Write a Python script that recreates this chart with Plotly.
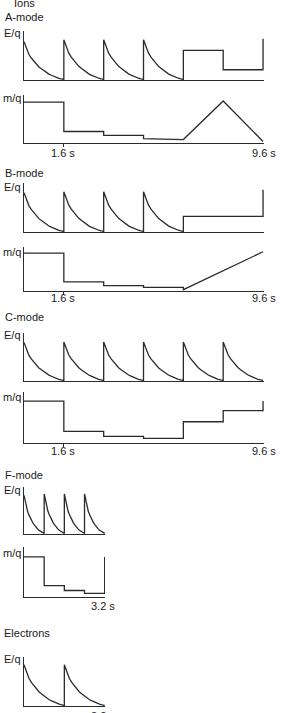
import plotly.graph_objects as go

# ---------------- data ----------------
# shape of one energy sweep (fraction of peak) at evenly spaced phases of the sweep
sweep_phase = [0.0, 0.0625, 0.125, 0.1875, 0.25, 0.3125, 0.375, 0.4375, 0.5,
               0.5625, 0.625, 0.6875, 0.75, 0.8125, 0.875, 0.9375, 1.0]
sweep_profile = [1.0, 0.82, 0.66, 0.56, 0.48, 0.40, 0.33, 0.28, 0.23,
                 0.18, 0.14, 0.11, 0.08, 0.055, 0.03, 0.012, 0.0]

# A-mode (ions)
A_eq_sweep_start = [0.0, 1.6, 3.2, 4.8]
A_eq_sweep_peak = [0.78, 0.82, 0.82, 0.82]
A_eq_sweep_len = 1.6
A_eq_tail_t = [6.4, 6.4, 8.0, 8.0, 9.6, 9.6]
A_eq_tail_v = [0.0, 0.60, 0.60, 0.20, 0.20, 0.84]
A_mq_t = [0.0, 1.6, 1.6, 3.2, 3.2, 4.8, 4.8, 6.4, 8.0, 9.6]
A_mq_v = [0.85, 0.85, 0.23, 0.23, 0.15, 0.15, 0.08, 0.06, 0.875, 0.02]

# B-mode (ions)
B_eq_sweep_start = [0.0, 1.6, 3.2, 4.8]
B_eq_sweep_peak = [0.80, 0.82, 0.82, 0.82]
B_eq_sweep_len = 1.6
B_eq_tail_t = [6.4, 6.4, 9.6, 9.6]
B_eq_tail_v = [0.0, 0.31, 0.31, 0.86]
B_mq_t = [0.0, 1.6, 1.6, 3.2, 3.2, 4.8, 4.8, 6.4, 6.4, 9.6]
B_mq_v = [0.86, 0.86, 0.20, 0.20, 0.11, 0.11, 0.07, 0.07, 0.02, 0.89]

# C-mode (ions)
C_eq_sweep_start = [0.0, 1.6, 3.2, 4.8, 6.4, 8.0]
C_eq_sweep_peak = [0.80, 0.81, 0.81, 0.81, 0.81, 0.81]
C_eq_sweep_len = 1.6
C_mq_t = [0.0, 1.6, 1.6, 3.2, 3.2, 4.8, 4.8, 6.4, 6.4, 8.0, 8.0, 9.6, 9.6]
C_mq_v = [0.82, 0.82, 0.22, 0.22, 0.12, 0.12, 0.08, 0.08, 0.41, 0.41, 0.63, 0.63, 0.82]

# F-mode (ions)
F_eq_sweep_start = [0.0, 0.8, 1.6, 2.4]
F_eq_sweep_peak = [0.82, 0.85, 0.85, 0.85]
F_eq_sweep_len = 0.8
F_mq_t = [0.0, 0.8, 0.8, 1.6, 1.6, 2.4, 2.4, 3.2, 3.2]
F_mq_v = [0.80, 0.80, 0.22, 0.22, 0.12, 0.12, 0.06, 0.06, 0.80]

# Electrons
E_eq_sweep_start = [0.0, 1.6]
E_eq_sweep_peak = [0.84, 0.84]
E_eq_sweep_len = 1.6

tick_labels_long = ["1.6 s", "9.6 s"]
tick_label_short = "3.2 s"


def sweeps(starts, peaks, length):
    t, v = [], []
    for s, p in zip(starts, peaks):
        for ph, pr in zip(sweep_phase, sweep_profile):
            t.append(s + ph * length)
            v.append(p * pr)
    return t, v


# ---------------- layout helpers ----------------
W, H = 281, 713
INK = "#2b2b2b"
FONT = dict(family="Liberation Sans, Arial, sans-serif", size=11, color="#1a1a1a")


def xd(a, b):
    return [a / W, b / W]


def yd(top, base):
    return [1 - base / H, 1 - top / H]


# (x domain px, y top px, y base px, x range max, tick at 1.6)
panels = [
    ((24, 264), 31, 80, 9.6, False),    # A E/q
    ((24, 264), 95, 143, 9.6, True),    # A m/q
    ((24, 264), 183, 232, 9.6, False),  # B E/q
    ((24, 264), 247, 291, 9.6, True),   # B m/q
    ((24, 264), 333, 381, 9.6, False),  # C E/q
    ((24, 264), 392, 443, 9.6, True),   # C m/q
    ((24, 105), 487, 534, 3.2, False),  # F E/q
    ((24, 105), 547, 597, 3.2, False),  # F m/q
    ((24, 105), 657, 706, 3.2, False),  # Electrons E/q
]

series = []
t, v = sweeps(A_eq_sweep_start, A_eq_sweep_peak, A_eq_sweep_len)
series.append((t + A_eq_tail_t, v + A_eq_tail_v))
series.append((A_mq_t, A_mq_v))
t, v = sweeps(B_eq_sweep_start, B_eq_sweep_peak, B_eq_sweep_len)
series.append((t + B_eq_tail_t, v + B_eq_tail_v))
series.append((B_mq_t, B_mq_v))
series.append(sweeps(C_eq_sweep_start, C_eq_sweep_peak, C_eq_sweep_len))
series.append((C_mq_t, C_mq_v))
series.append(sweeps(F_eq_sweep_start, F_eq_sweep_peak, F_eq_sweep_len))
series.append((F_mq_t, F_mq_v))
series.append(sweeps(E_eq_sweep_start, E_eq_sweep_peak, E_eq_sweep_len))

fig = go.Figure()
layout = {}
for i, ((pdx, ptop, pbase, xmax, tick), (tt, vv)) in enumerate(zip(panels, series), start=1):
    sfx = "" if i == 1 else str(i)
    fig.add_trace(go.Scatter(x=tt, y=vv, mode="lines",
                             line=dict(color=INK, width=1.3),
                             xaxis="x" + sfx, yaxis="y" + sfx,
                             showlegend=False, hoverinfo="skip"))
    layout["xaxis" + sfx] = dict(
        domain=xd(*pdx), range=[0, xmax * 1.004], anchor="y" + sfx,
        showline=True, linecolor=INK, linewidth=1.2,
        showgrid=False, zeroline=False, showticklabels=False,
        ticks="outside" if tick else "", tickvals=[1.6] if tick else [],
        ticklen=3, tickwidth=1, tickcolor=INK)
    layout["yaxis" + sfx] = dict(
        domain=yd(ptop, pbase), range=[-0.012, 1], anchor="x" + sfx,
        showline=True, linecolor=INK, linewidth=1.2,
        showgrid=False, zeroline=False, showticklabels=False, ticks="")

fig.update_layout(**layout)

ann = []


def text(s, xp, yp):
    ann.append(dict(text=s, x=xp / W, y=1 - yp / H, xref="paper", yref="paper",
                    xanchor="left", yanchor="middle", showarrow=False, font=FONT))


def ctext(s, xp, yp):
    ann.append(dict(text=s, x=xp / W, y=1 - yp / H, xref="paper", yref="paper",
                    xanchor="center", yanchor="middle", showarrow=False, font=FONT))


text("Ions", 12, 3)
text("A-mode", 3, 17)
text("E/q", 2, 33)
text("m/q", 1, 98)
ctext(tick_labels_long[0], 63, 153)
ctext(tick_labels_long[1], 264, 153)
text("B-mode", 3, 173)
text("E/q", 2, 187)
text("m/q", 1, 252)
ctext(tick_labels_long[0], 63, 298)
ctext(tick_labels_long[1], 264, 298)
text("C-mode", 3, 317)
text("E/q", 2, 335)
text("m/q", 1, 397)
ctext(tick_labels_long[0], 63, 451)
ctext(tick_labels_long[1], 264, 451)
text("F-mode", 3, 475)
text("E/q", 2, 490)
text("m/q", 1, 553)
ctext(tick_label_short, 103, 606)
text("Electrons", 2, 633)
text("E/q", 2, 659)
ctext(tick_label_short, 103, 716)

fig.update_layout(width=W, height=H, margin=dict(l=0, r=0, t=0, b=0),
                  paper_bgcolor="white", plot_bgcolor="white",
                  annotations=ann, showlegend=False)

fig.write_html("out.html", config={"displayModeBar": False})
